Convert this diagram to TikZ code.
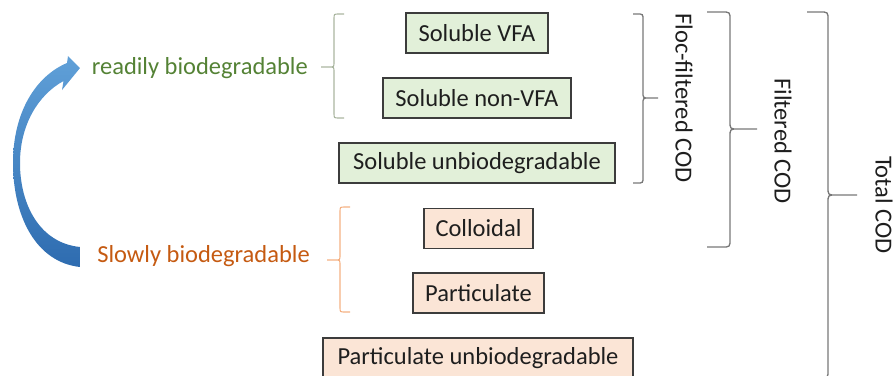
\documentclass[tikz,border=0pt]{standalone}
\usepackage{fontspec}
\setmainfont{Carlito}
\definecolor{gtext}{RGB}{84,130,53}
\definecolor{otext}{RGB}{197,90,17}
\definecolor{gfill}{RGB}{226,240,217}
\definecolor{ofill}{RGB}{251,229,214}
\definecolor{boxline}{RGB}{60,60,60}
\definecolor{gbr}{RGB}{170,182,160}
\definecolor{obr}{RGB}{244,177,131}
\definecolor{kbr}{RGB}{120,120,120}
\definecolor{txt}{RGB}{30,30,30}
\definecolor{arrtop}{RGB}{96,160,216}
\definecolor{arrbot}{RGB}{46,108,176}
% #1 style, #2 xv, #3 yt, #4 yb, #5 ym, #6 xe, #7 xt, #8 rx (signed), #9 ry
\newcommand{\BraceShape}[9]{%
  \draw[#1] (#6,#3) -- ({#2+(#8)},#3) .. controls (#2,#3) .. (#2,{#3+#9})
    -- (#2,{#5-#9}) .. controls (#2,#5) .. ({#2-(#8)},#5) -- (#7,#5)
    ({#2-(#8)},#5) .. controls (#2,#5) .. (#2,{#5+#9})
    -- (#2,{#4-#9}) .. controls (#2,#4) .. ({#2+(#8)},#4) -- (#6,#4);}
\begin{document}
\begin{tikzpicture}[x=1pt,y=-1pt,
  txtfont/.style={font=\fontsize{24.5}{28}\selectfont},
  lbl/.style={txtfont, inner sep=0pt},
  boxbase/.style={txtfont, draw=boxline, line width=1.4pt, inner sep=0pt, text=txt, minimum height=40pt},
  gbox/.style={boxbase, fill=gfill},
  obox/.style={boxbase, fill=ofill},
  gbrace/.style={draw=gbr, line width=1.1pt},
  obrace/.style={draw=obr, line width=1.1pt},
  kbrace/.style={draw=kbr, line width=1.3pt},
  rot/.style={txtfont, inner sep=0pt, rotate=-90, text=txt}]
\useasboundingbox (0,0) rectangle (896,375);

% curved arrow
\shade[top color=arrtop, bottom color=arrbot]
  (80,267) .. controls (35,262) and (13,215) .. (13,163)
  .. controls (13,112) and (36,76) .. (67,63)
  -- (68,56) -- (80,68) -- (62,90) -- (63.5,81)
  .. controls (38,95) and (20,125) .. (20,163)
  .. controls (20,205) and (40,243) .. (80,247) -- cycle;

% left labels
\node[lbl, text=gtext, anchor=base east] (ready) at (308,74) {readily biodegradable};
\node[lbl, text=otext, anchor=base east] (slow) at (310,262) {Slowly biodegradable};

% boxes
\node[gbox, minimum width=142pt] (vfa) at (477,33) {Soluble VFA};
\node[gbox, minimum width=188pt] (nvfa) at (477,98) {Soluble non-VFA};
\node[gbox, minimum width=276pt] (sunb) at (477,163) {Soluble unbiodegradable};
\node[obox, minimum width=109pt] (coll) at (478.5,228.5) {Colloidal};
\node[obox, minimum width=131pt] (part) at (478.5,293) {Particulate};
\node[obox, minimum width=310pt] (punb) at (478,358) {Particulate unbiodegradable};

% left braces (with dash toward labels)
\BraceShape{gbrace}{334}{14}{118}{67}{344}{321}{5}{5}
\BraceShape{obrace}{340}{207}{312}{260}{350}{327}{5}{5}

% right braces
\BraceShape{kbrace}{643}{14}{183}{98}{633}{658}{-6}{6}
\BraceShape{kbrace}{730}{12}{247}{129}{707}{757}{-8}{8}
\BraceShape{kbrace}{828}{12}{378}{195}{807}{857}{-8}{8}

% right labels
\node[rot] (floc) at (684,98) {Floc-filtered COD};
\node[rot] (filt) at (783,141) {Filtered COD};
\node[rot] (total) at (884,205) {Total COD};
\end{tikzpicture}
\end{document}
